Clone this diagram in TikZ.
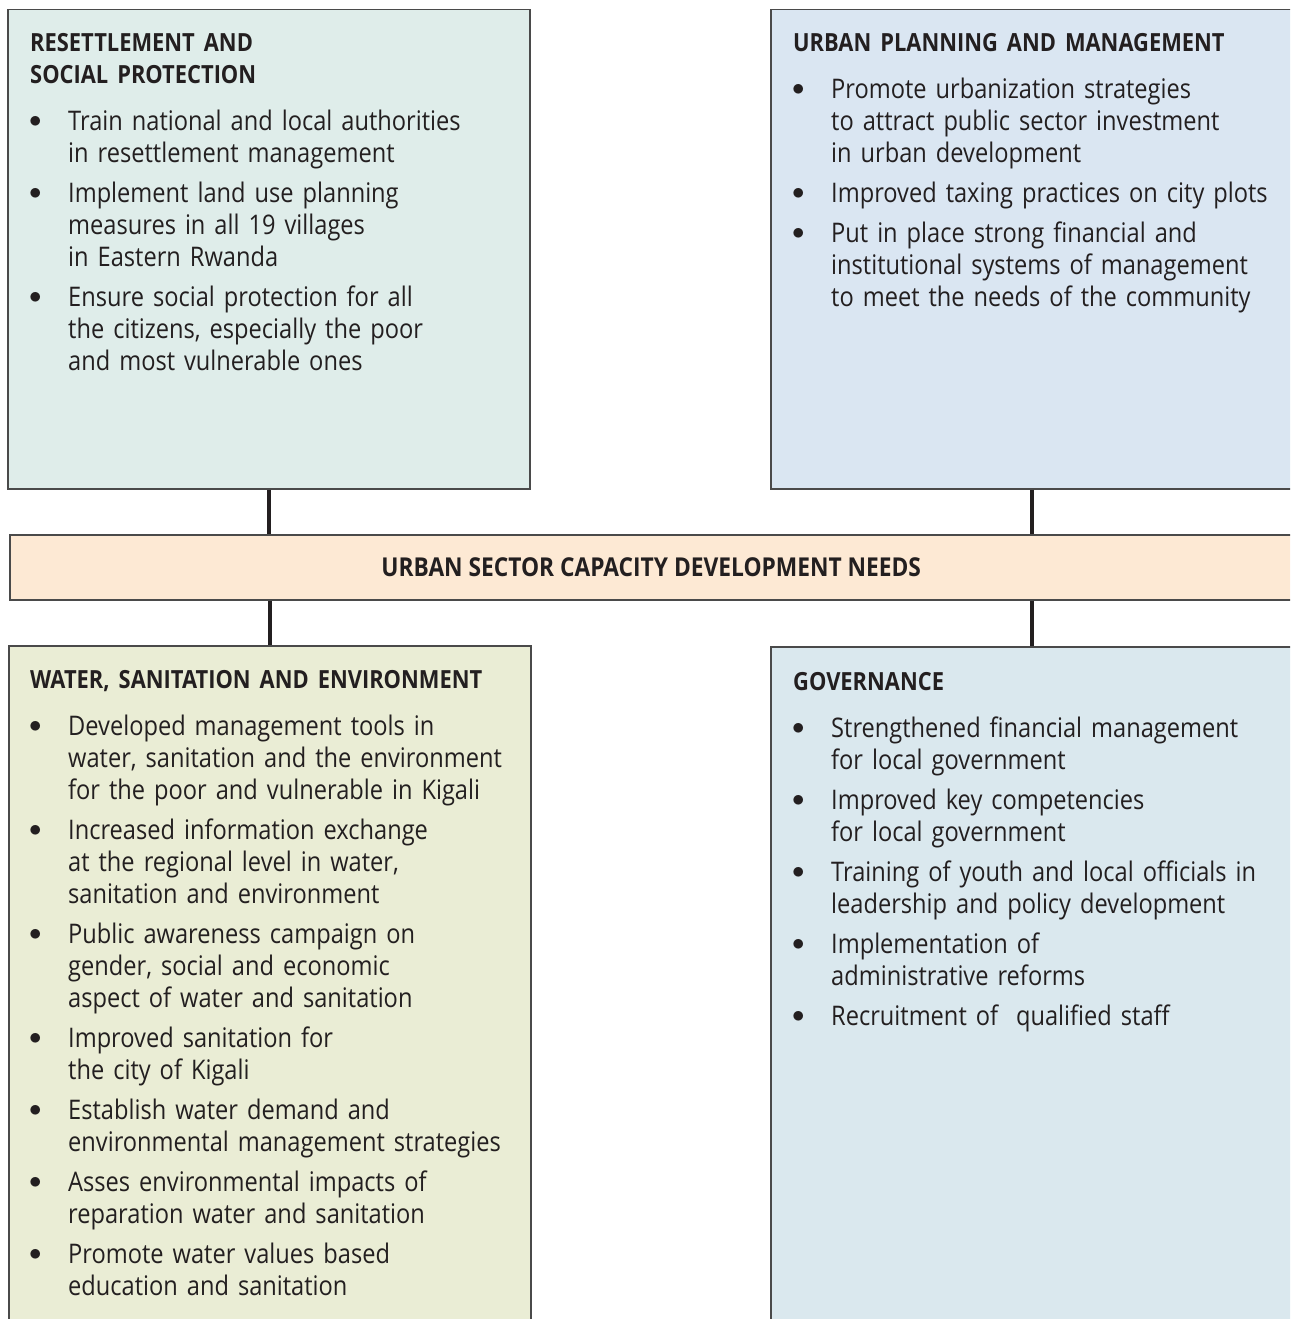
\documentclass[tikz,border=0pt]{standalone}
\usepackage{fontspec}
\setmainfont{Open Sans}[FakeStretch=0.875]
\usetikzlibrary{positioning}
\definecolor{resettlefill}{HTML}{DFEDEA}
\definecolor{planfill}{HTML}{DAE6F2}
\definecolor{needsfill}{HTML}{FDE9D4}
\definecolor{waterfill}{HTML}{EAEDD5}
\definecolor{govfill}{HTML}{DAE8EE}
\definecolor{rimgray}{HTML}{4A4A4A}
\definecolor{inkgray}{HTML}{231F20}
\newcommand{\nl}{\hfil\break}
\newcommand{\boxhead}[1]{{\fontsize{25}{32}\selectfont\bfseries #1\par}\vspace{6.5pt}}
\newcommand{\bitem}[1]{\par\vspace{8pt}\hangindent=38pt\hangafter=1\noindent\makebox[38pt][l]{\hspace{-1pt}\raisebox{3pt}{$\bullet$}}#1\par}
\begin{document}
\begin{tikzpicture}[x=1pt,y=-1pt,
    area/.style={draw=rimgray,line width=1.5pt,minimum width=522pt,inner sep=0pt,anchor=north west},
    list/.style={anchor=base west,inner sep=0pt,text width=520pt,text=inkgray,font=\fontsize{27}{32}\selectfont},
    link/.style={line width=3.5pt,draw=inkgray}]
    \useasboundingbox (0,0) rectangle (1290,1319); % pagina
    \fill[white] (0,0) rectangle (1290,1319); % sfondo
    \clip (0,0) rectangle (1290,1319); % i riquadri escono a destra e in basso
    \node[area,fill=resettlefill,minimum height=479pt] (resettle) at (7,9) {}; % riquadro in alto a sinistra
    \node[area,fill=planfill,minimum height=479pt] (plan) at (770,9) {}; % riquadro in alto a destra
    \node[area,fill=needsfill,minimum width=1283pt,minimum height=65pt,text=inkgray,
      font=\fontsize{26}{32}\selectfont\bfseries] (needs) at (9,534) {URBAN SECTOR CAPACITY DEVELOPMENT NEEDS}; % fascia centrale
    \node[area,fill=waterfill,minimum height=690pt] (water) at (8,645) {}; % riquadro in basso a sinistra
    \node[area,fill=govfill,minimum height=690pt] (gov) at (770,646) {}; % riquadro in basso a destra
    \draw[link] (resettle.south) -- (resettle.south |- needs.north); % collegamenti
    \draw[link] (plan.south) -- (plan.south |- needs.north);
    \draw[link] (water.north |- needs.south) -- (water.north);
    \draw[link] (gov.north |- needs.south) -- (gov.north);
    \node[list] (resettletxt) at (30,52) {\boxhead{RESETTLEMENT AND\\SOCIAL PROTECTION}%
      \bitem{Train national and local authorities\nl in resettlement management}%
      \bitem{Implement land use planning\nl measures in all 19 villages\nl in Eastern Rwanda}%
      \bitem{Ensure social protection for all\nl the citizens, especially the poor\nl and most vulnerable ones}};
    \node[list] (plantxt) at (793,52) {\boxhead{URBAN PLANNING AND MANAGEMENT}%
      \bitem{Promote urbanization strategies\nl to attract public sector investment\nl in urban development}%
      \bitem{Improved taxing practices on city plots}%
      \bitem{Put in place strong financial and\nl institutional systems of management\nl to meet the needs of the community}};
    \node[list] (watertxt) at (30,688.5) {\boxhead{WATER, SANITATION AND ENVIRONMENT}%
      \bitem{Developed management tools in\nl water, sanitation and the environment\nl for the poor and vulnerable in Kigali}%
      \bitem{Increased information exchange\nl at the regional level in water,\nl sanitation and environment}%
      \bitem{Public awareness campaign on\nl gender, social and economic\nl aspect of water and sanitation}%
      \bitem{Improved sanitation for\nl the city of Kigali}%
      \bitem{Establish water demand and\nl environmental management strategies}%
      \bitem{Asses environmental impacts of\nl reparation water and sanitation}%
      \bitem{Promote water values based\nl education and sanitation}};
    \node[list] (govtxt) at (793,690.5) {\boxhead{GOVERNANCE}%
      \bitem{Strengthened financial management\nl for local government}%
      \bitem{Improved key competencies\nl for local government}%
      \bitem{Training of youth and local officials in\nl leadership and policy development}%
      \bitem{Implementation of\nl administrative reforms}%
      \bitem{Recruitment of\ \ qualified staff}};
\end{tikzpicture}
\end{document}
